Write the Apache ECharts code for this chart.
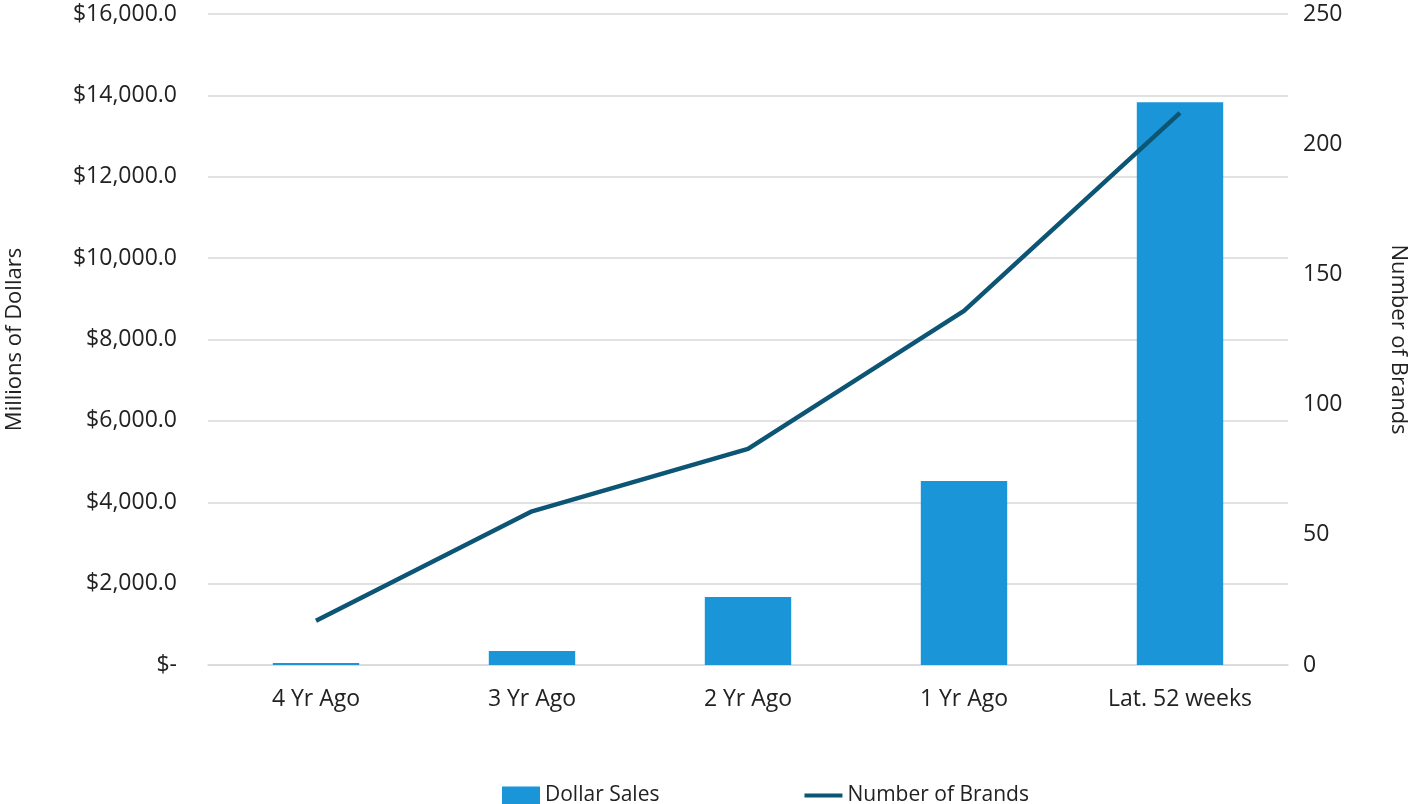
<!DOCTYPE html>
<html>
<head>
<meta charset="utf-8">
<script src="https://cdn.jsdelivr.net/npm/echarts@6/dist/echarts.min.js"></script>
<style>
  html, body { margin: 0; padding: 0; background: #fff; }
  #chart { width: 1409px; height: 804px; }
</style>
</head>
<body>
<div id="chart"></div>
<script>
const categories = ['4 Yr Ago', '3 Yr Ago', '2 Yr Ago', '1 Yr Ago', 'Lat. 52 weeks'];
const dollarSales = [50, 345, 1670, 4520, 13830];
const numberOfBrands = [17, 59, 83, 136, 212];

const chart = echarts.init(document.getElementById('chart'));
const font = 'Open Sans';

// 左轴格式: $16,000.0 / $-
function fmtDollar(v) {
  if (v === 0) return '$-';
  return '$' + v.toLocaleString('en-US', { minimumFractionDigits: 1, maximumFractionDigits: 1 });
}

chart.setOption({
  backgroundColor: '#fff',
  textStyle: { fontFamily: font },
  grid: { left: 208, right: 121, top: 14, bottom: 139, outerBoundsMode: 'none', containLabel: false },
  legend: {
    top: 780,
    left: 497,
    itemGap: 145,
    itemWidth: 38,
    itemHeight: 18,
    textStyle: { fontSize: 21, color: '#222', fontFamily: font },
    data: [
      { name: 'Dollar Sales', icon: 'rect' },
      { name: 'Number of Brands', icon: 'path://M0,0L0,0M0,7L40,7L40,11L0,11ZM0,18L0,18' }
    ]
  },
  xAxis: {
    type: 'category',
    data: categories,
    axisTick: { show: false },
    axisLine: { lineStyle: { color: '#d9d9d9', width: 1.5 } },
    axisLabel: { fontSize: 23, color: '#222', margin: 23 }
  },
  yAxis: [{
    type: 'value',
    min: 0, max: 16000, interval: 2000,
    name: 'Millions of Dollars',
    nameLocation: 'middle',
    nameGap: 182,
    nameTextStyle: { fontSize: 22, color: '#222' },
    axisLabel: { fontSize: 23, color: '#222', margin: 31, formatter: fmtDollar },
    splitLine: { lineStyle: { color: '#d9d9d9', width: 1.5 } }
  }, {
    type: 'value',
    min: 0, max: 250, interval: 50,
    name: 'Number of Brands',
    nameLocation: 'middle',
    nameGap: 99,
    nameRotate: -90,
    nameTextStyle: { fontSize: 22, color: '#222' },
    axisLabel: { fontSize: 23, color: '#222', margin: 15 },
    splitLine: { show: false }
  }],
  series: [{
    name: 'Dollar Sales',
    type: 'bar',
    data: dollarSales,
    barWidth: '40%',
    itemStyle: { color: '#1a96d8' }
  }, {
    name: 'Number of Brands',
    type: 'line',
    yAxisIndex: 1,
    data: numberOfBrands,
    symbol: 'none',
    lineStyle: { color: '#0d5574', width: 4.5 },
    itemStyle: { color: '#0d5574' }
  }]
});
</script>
</body>
</html>
